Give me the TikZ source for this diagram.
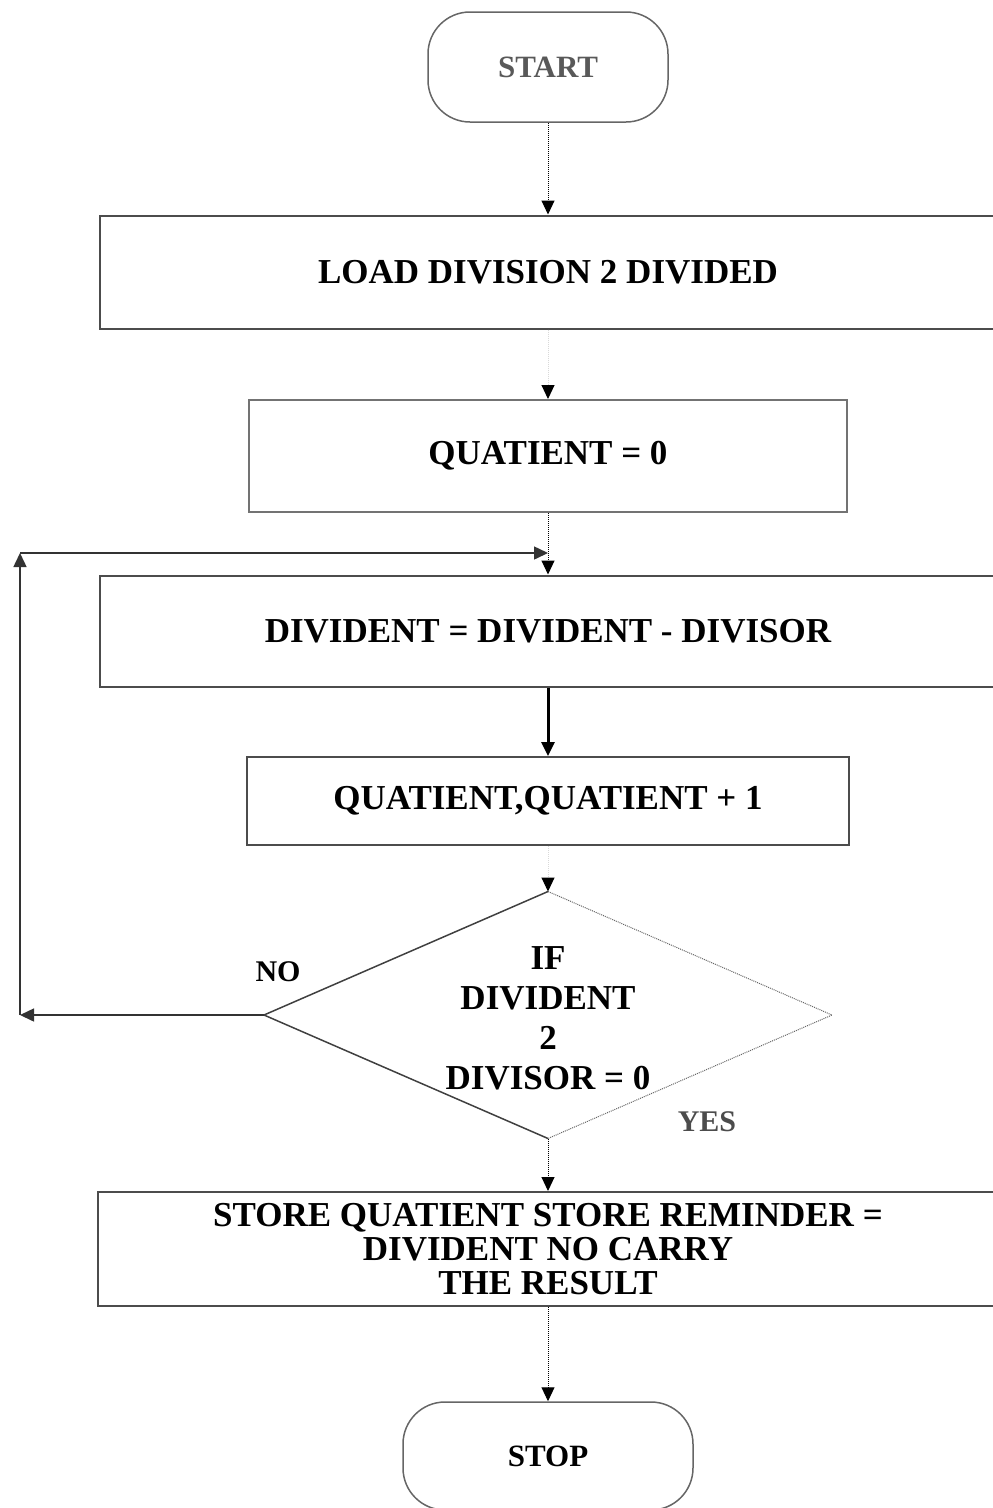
\documentclass[tikz,border=0pt]{standalone}
\usepackage{fontspec}
\setmainfont{Liberation Serif}
\usetikzlibrary{arrows.meta,shapes.geometric}

\begin{document}
\begin{tikzpicture}[x=1pt,y=-1pt,line width=1pt,>={Triangle[length=14pt,width=13pt]},
  box/.style={draw=black!70,line width=2pt,inner sep=0pt,align=center,
    font=\bfseries\fontsize{35}{34}\selectfont},
  term/.style={draw=black!60,line width=1.5pt,rounded corners=42pt,inner sep=0pt,
    font=\bfseries\fontsize{31}{34}\selectfont},
  flow/.style={->,densely dotted,line width=1pt},
  faint/.style={densely dotted,draw=black!15,-{Triangle[length=14pt,width=13pt,color=black]}},
  loop/.style={->,line width=1.5pt,black!80},
  tag/.style={font=\bfseries\fontsize{30}{30}\selectfont}]
\path[use as bounding box,clip] (0,0) rectangle (993,1508);
% terminals
\node[term,text=black!65,minimum width=240pt,minimum height=110pt] (start) at (548,67) {START};
\node[term,minimum width=290pt,minimum height=108pt] (stop) at (548,1456) {STOP};
% process boxes
\node[box,minimum width=896pt,minimum height=113pt] (load) at (548,272) {LOAD DIVISION 2 DIVIDED};
\node[box,draw=black!55,minimum width=598pt,minimum height=112pt] (qzero) at (548,456) {QUATIENT = 0};
\node[box,minimum width=896pt,minimum height=111pt] (sub) at (548,631) {DIVIDENT = DIVIDENT - DIVISOR};
\node[box,minimum width=602pt,minimum height=88pt] (inc) at (548,801) {QUATIENT,QUATIENT + 1};
\node[box,minimum width=900pt,minimum height=114pt] (store) at (548,1249)
  {STORE QUATIENT STORE REMINDER =\\DIVIDENT NO CARRY\\THE RESULT};
% decision
\node[diamond,minimum width=567pt,minimum height=246pt,inner sep=0pt] (dec) at (548,1015) {};
\draw[line width=1.5pt,black!75] (dec.north) -- (dec.west) -- (dec.south);
\draw[densely dotted,black!60] (dec.north) -- (dec.east) -- (dec.south);
\node[box,draw=none,font=\bfseries\fontsize{35}{40}\selectfont] (dectext) at (548,1018)
  {IF\\DIVIDENT\\2\\DIVISOR = 0};
\node[tag] (no) at (278,972) {NO};
\node[tag,text=black!70] (yes) at (707,1122) {YES};
% main flow
\draw[flow] (start) -- (load);
\draw[faint] (load) -- (qzero);
\draw[flow] (qzero) -- (sub);
\draw[->,line width=3pt] (sub) -- (inc);
\draw[faint] (inc) -- (dec.north);
\draw[flow] (dec.south) -- (store);
\draw[flow] (store) -- (stop);
% NO loop back
\coordinate (loopL) at (20,1015);
\coordinate (loopT) at (20,553);
\coordinate (loopJ) at (548,553);
\draw[loop] (dec.west) -- (loopL);
\draw[loop] (loopL) -- (loopT);
\draw[loop] (loopT) -- (loopJ);
\end{tikzpicture}
\end{document}
